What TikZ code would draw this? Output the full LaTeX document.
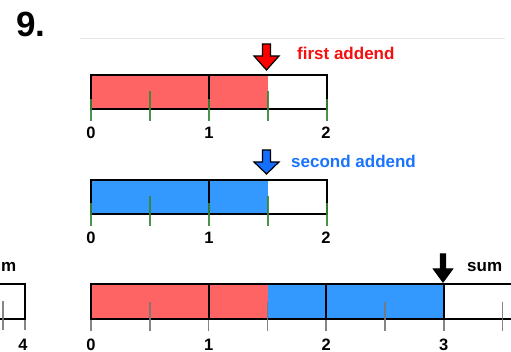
\documentclass[tikz,border=0pt]{standalone}
\usepackage{fontspec}
\setmainfont{Liberation Sans}
\definecolor{barred}{RGB}{255,100,100}
\definecolor{barblue}{RGB}{51,153,255}
\definecolor{txtred}{RGB}{245,15,15}
\definecolor{txtblue}{RGB}{25,115,255}
\definecolor{arrblue}{RGB}{20,110,255}
\definecolor{tickgreen}{RGB}{55,135,55}
\definecolor{tickgray}{RGB}{120,120,120}
\definecolor{rulegray}{RGB}{232,232,232}
\tikzset{
  barline/.style={draw=black, line width=2pt},
  greentick/.style={draw=tickgreen, line width=1.5pt, opacity=0.9},
  graytick/.style={draw=tickgray, line width=1.5pt, opacity=0.9},
  numlbl/.style={font=\bfseries\fontsize{16.5}{18}\selectfont, inner sep=0pt, anchor=base},
  caption/.style={font=\bfseries\fontsize{17}{19}\selectfont, inner sep=0pt, anchor=base west},
  blockarrow/.style={draw=black, line width=1.2pt, line join=miter}
}
\begin{document}
\begin{tikzpicture}[x=1pt,y=-1pt]
\useasboundingbox (0,0) rectangle (511,352);
\clip (0,0) rectangle (511,352);

% title and rule
\node[font=\bfseries\fontsize{35}{38}\selectfont, inner sep=0pt, anchor=base west] (title) at (16,37) {9.};
\draw[rulegray, line width=1pt] (80,39) -- (505,39);

% ---------- bar 1 (first addend) ----------
\fill[barred] (91,75) rectangle (268,109);
\draw[barline] (209,75) -- (209,109);
\draw[barline] (91,75) rectangle (327,109);
\foreach \t in {0,1,2} \draw[greentick] ({91+\t*118},99) -- ({91+\t*118},121);
\foreach \t in {0.5,1.5} \draw[greentick] ({91+\t*118},91) -- ({91+\t*118},121);
\node[numlbl] (a0) at (91,139) {0};
\node[numlbl] (a1) at (209,139) {1};
\node[numlbl] (a2) at (326,139) {2};
\draw[blockarrow, fill=red] (262.5,44) -- (270.5,44) -- (270.5,56) -- (279,56) -- (266.5,70) -- (254,56) -- (262.5,56) -- cycle;
\node[caption, text=txtred] (first) at (297,60) {first addend};

% ---------- bar 2 (second addend) ----------
\fill[barblue] (91,180) rectangle (268,214);
\draw[barline] (209,180) -- (209,214);
\draw[barline] (91,180) rectangle (327,214);
\foreach \t in {0,1,2} \draw[greentick] ({91+\t*118},203) -- ({91+\t*118},226);
\foreach \t in {0.5,1.5} \draw[greentick] ({91+\t*118},196) -- ({91+\t*118},226);
\node[numlbl] (b0) at (91,244) {0};
\node[numlbl] (b1) at (209,244) {1};
\node[numlbl] (b2) at (326,244) {2};
\draw[blockarrow, fill=arrblue] (262.5,150) -- (270.5,150) -- (270.5,162) -- (279,162) -- (266.5,174) -- (254,162) -- (262.5,162) -- cycle;
\node[caption, text=txtblue] (second) at (291,168) {second addend};

% ---------- bar 3 (sum) ----------
\fill[barred] (91,284) rectangle (267.5,319);
\fill[barblue] (267.5,284) rectangle (443.5,319);
\foreach \t in {1,2,3} \draw[barline] ({91+\t*117.6},284) -- ({91+\t*117.6},319);
\draw[barline] (91,284) rectangle (561,319);
\foreach \t in {0,1,2,3} \draw[graytick] ({91+\t*117.6},320) -- ({91+\t*117.6},331);
\foreach \t in {0.5,1.5,2.5,3.5} \draw[graytick] ({91+\t*117.6},302) -- ({91+\t*117.6},331);
\node[numlbl] (c0) at (91,350) {0};
\node[numlbl] (c1) at (208.6,350) {1};
\node[numlbl] (c2) at (326.2,350) {2};
\node[numlbl] (c3) at (443.8,350) {3};
\draw[blockarrow, fill=black] (440.5,254) -- (445.5,254) -- (445.5,269) -- (452.5,269) -- (443,282) -- (433.5,269) -- (440.5,269) -- cycle;
\node[caption] (sum) at (467,272) {sum};

% ---------- partial bar at left ----------
\draw[barline] (-10,284) -- (25,284) -- (25,319) -- (-10,319);
\draw[graytick] (3,301) -- (3,330);
\draw[graytick] (25,320) -- (25,330);
\node[numlbl] (d4) at (23,350) {4};
\node[font=\bfseries\fontsize{17}{19}\selectfont, inner sep=0pt, anchor=base west] (msum) at (1,272) {m};
\end{tikzpicture}
\end{document}
